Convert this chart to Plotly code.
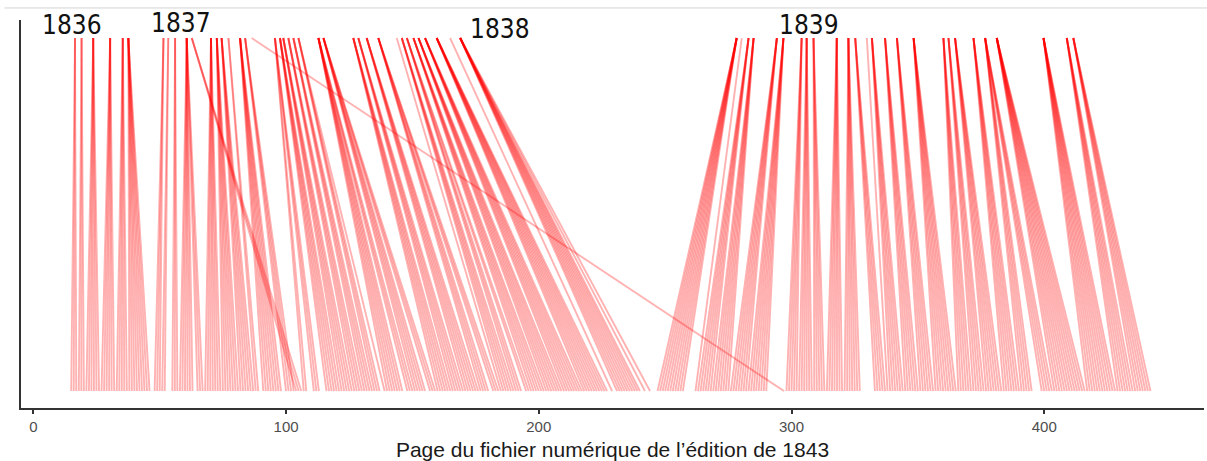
import plotly.graph_objects as go

# Year labels shown above the groups of original-publication positions
year_labels = ["1836", "1837", "1838", "1839"]
label_x = [2.65, 45.8, 171.9, 294.1]
label_y = [1.037, 1.0425, 1.026, 1.037]

# Top position of each link group (original position, same page scale)
top_pages = [
    16.5, 19.1, 23.7, 30.4, 35.4, 37.6,
    51.5, 53.4, 56.1, 60.7, 62.7, 70.3, 72.6, 74.5, 77.2, 81.8, 83.8, 86.4,
    95.6, 97.6, 98.9, 100.9, 102.9, 104.9, 112.8, 114.8,
    126.6, 128.6, 131.9, 136.5, 143.8, 145.8, 147.8, 150.4, 152.4, 155.0,
    159.6, 164.9, 168.9,
    278.3, 280.3, 283.0, 285.0, 294.2, 296.8, 304.0, 306.0, 308.7, 317.9,
    322.5, 325.2, 329.8, 331.8, 337.0, 341.7, 348.3, 360.1, 362.1, 364.7,
    372.0, 376.6, 381.2, 399.7, 408.9, 411.5,
]

# Page of the 1843 digital file for each link of the group
bottom_pages = [
    [15, 16, 17],
    [18, 19, 20],
    [21, 22, 23, 24, 25, 26],
    [27, 28, 29, 30, 31, 32],
    [33, 34, 35, 36, 37],
    [38, 39, 40, 41, 42, 43, 44, 45, 46],
    [48, 49, 50],
    [51, 52],
    [55, 56, 57],
    [58, 59, 60, 61, 62, 63, 65, 66, 67],
    [104, 105, 106],
    [68, 69, 70, 71, 72, 73, 74],
    [75, 76, 77, 78, 79, 80, 81],
    [82, 83, 84, 85, 86, 87],
    [88, 89],
    [91, 92, 93, 94, 95, 96, 97, 98],
    [100, 101, 102, 103],
    [297],
    [107, 108, 111, 112, 113],
    [116, 117, 118, 119, 120, 121],
    [122, 123, 124, 125, 126],
    [127, 128, 129, 130],
    [131, 132, 133, 134],
    [135, 136, 137, 139],
    [140, 141, 142, 143, 144, 145, 146, 148, 149, 150],
    [151, 152, 153, 154, 155, 157, 158, 159],
    [160, 161, 162, 163, 164, 165],
    [166, 167, 168, 169, 170],
    [171, 172, 173, 174, 175, 176],
    [177, 178, 179, 180, 182, 183, 184],
    [185],
    [186, 187, 188, 189, 190],
    [191, 192, 193, 195, 196],
    [197, 198, 199, 200, 201, 202],
    [203, 204, 205, 206, 207, 208, 209],
    [210, 211, 212, 213, 214, 215, 216, 217],
    [218, 219, 220, 221, 222, 223, 224, 225, 226, 227],
    [229],
    [231, 232, 233, 234, 235, 236, 237, 238, 239, 240, 242, 244],
    [247, 248, 249, 250, 251, 252, 253, 254, 255, 256, 257],
    [262],
    [263, 264, 265, 266, 267, 268],
    [269, 270, 271, 272, 273, 274, 275],
    [276, 277, 278, 279, 280, 281, 282],
    [283, 284, 285, 286, 287, 288, 289, 290],
    [298, 299, 300, 301, 302],
    [303, 304, 305, 306, 307, 308],
    [309, 310, 311, 312, 313],
    [314, 315, 316, 317, 318, 319, 320],
    [321, 322, 323, 324, 325, 326, 327],
    [333, 334, 335, 336, 337],
    [338],
    [339, 340, 341, 342, 343, 344],
    [345, 346, 347, 348, 349, 350],
    [351, 352, 353, 354, 355, 356],
    [357, 358, 359, 360, 361, 362, 363, 364, 365],
    [366, 367, 368, 369, 370, 371],
    [372, 373, 374, 375, 376],
    [377, 378, 379, 380, 381, 382, 383],
    [384, 385, 386, 387, 388, 389, 390],
    [391, 392, 393, 394, 395, 399, 400, 401, 402, 403],
    [404, 405, 406, 407, 408, 409, 410, 411, 412, 413, 414, 415, 416],
    [417, 418, 419, 420, 421, 422, 423, 424, 425, 426, 427, 428],
    [429, 430, 431, 432, 433, 434, 435],
    [436, 437, 438, 439, 440, 441, 442],
]

x_ticks = [0, 100, 200, 300, 400]
TOP, BOTTOM = 1.0, 0.0
LINK_COLOR = "rgba(255,0,0,0.30)"

fig = go.Figure()
for tx, bl in zip(top_pages, bottom_pages):
    for b in bl:
        fig.add_trace(go.Scatter(
            x=[tx, b], y=[TOP, BOTTOM], mode="lines",
            line=dict(color=LINK_COLOR, width=1.9),
            hoverinfo="skip", showlegend=False,
        ))

for lab, lx, ly in zip(year_labels, label_x, label_y):
    fig.add_annotation(
        x=lx, y=ly, xref="x", yref="y", text=lab, showarrow=False,
        xanchor="left", yanchor="middle",
        font=dict(family="DejaVu Sans Condensed, DejaVu Sans", size=26, color="#111111"),
    )

# thin grey rule at the very top of the picture
fig.add_shape(type="line", xref="paper", yref="paper",
              x0=-0.014, x1=1.01, y0=1.031, y1=1.031,
              line=dict(color="#d4d4d4", width=1))

fig.update_layout(
    width=1207, height=461,
    margin=dict(l=21, r=3, t=20, b=53),
    plot_bgcolor="white", paper_bgcolor="white",
    font=dict(family="Liberation Sans, Arial, sans-serif"),
    xaxis=dict(
        range=[-4.87, 463.2], tickvals=x_ticks, ticks="outside", ticklen=4,
        tickwidth=1.5, tickcolor="#333333",
        showline=True, linecolor="#333333", linewidth=1.8,
        showgrid=False, zeroline=False,
        tickfont=dict(size=15, color="#4d4d4d"),
        title=dict(text="Page du fichier numérique de l’édition de 1843",
                   font=dict(size=21, color="#1a1a1a"), standoff=8),
    ),
    yaxis=dict(
        range=[-0.048, 1.051], showticklabels=False, ticks="",
        showline=True, linecolor="#333333", linewidth=1.8,
        showgrid=False, zeroline=False,
    ),
)

fig.write_html(
    "out.html",
    config={"displayModeBar": False},
    post_script="document.body.style.margin='0';document.body.style.overflow='hidden';",
)
